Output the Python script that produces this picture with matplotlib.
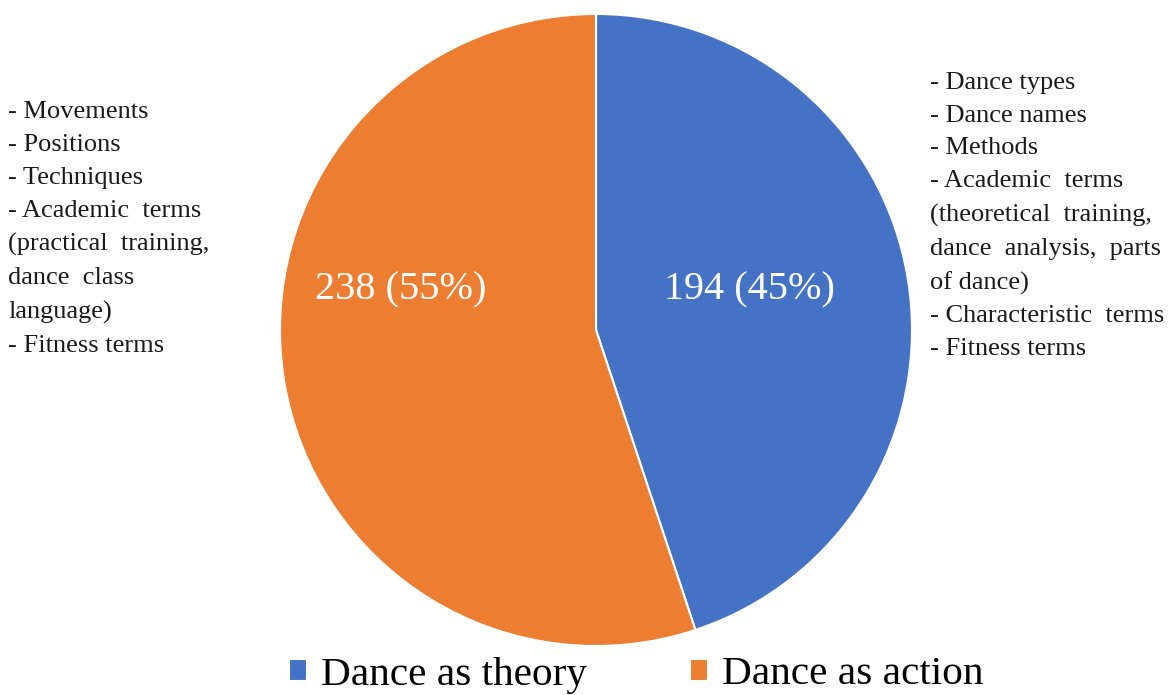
import matplotlib.pyplot as plt

# data
categories = ["Dance as theory", "Dance as action"]
counts = [194, 238]
colors = ["#4472C4", "#ED7D31"]
theory_notes = ["- Dance types", "- Dance names", "- Methods", "- Academic  terms",
                "(theoretical  training,", "dance  analysis,  parts", "of dance)",
                "- Characteristic  terms", "- Fitness terms"]
action_notes = ["- Movements", "- Positions", "- Techniques", "- Academic  terms",
                "(practical  training,", "dance  class", "language)", "- Fitness terms"]

plt.rcParams["font.family"] = ["Liberation Serif", "DejaVu Serif"]

fig = plt.figure(figsize=(11.68, 6.95), dpi=100)
W, H = 1168, 695
cx, cy, r = 596, 330, 316
ax = fig.add_axes([(cx - r) / W, (H - cy - r) / H, 2 * r / W, 2 * r / H])

total = sum(counts)
wedges, texts, autotexts = ax.pie(counts, colors=colors, startangle=90, counterclock=False,
                                  radius=1, labels=None,
                                  autopct=lambda p: "%d (%d%%)" % (round(p * total / 100), round(p)),
                                  pctdistance=0.5,
                                  wedgeprops=dict(edgecolor="white", linewidth=1.5),
                                  textprops=dict(color="white", fontsize=29))
# labels sit on one horizontal line in the reference
label_x = [0.487, -0.617]
for t, lx in zip(autotexts, label_x):
    t.set_position((lx, 0.127))
ax.set_xlim(-1, 1)
ax.set_ylim(-1, 1)
ax.set_aspect("equal")
ax.axis("off")

fig.text(8 / W, 1 - 229 / H, "\n".join(action_notes), ha="left", va="center",
         fontsize=19, linespacing=1.64, color="#1a1a1a")
fig.text(930 / W, 1 - 216 / H, "\n".join(theory_notes), ha="left", va="center",
         fontsize=19, linespacing=1.64, color="#1a1a1a")

fig.legend(wedges, categories, loc="center", bbox_to_anchor=(636 / W, 1 - 675 / H),
           ncol=2, frameon=False, fontsize=29.7, handlelength=0.44, handleheight=0.44,
           handletextpad=0.34, columnspacing=2.5, borderpad=0)

fig.savefig("out.png", dpi=100, facecolor="white")
